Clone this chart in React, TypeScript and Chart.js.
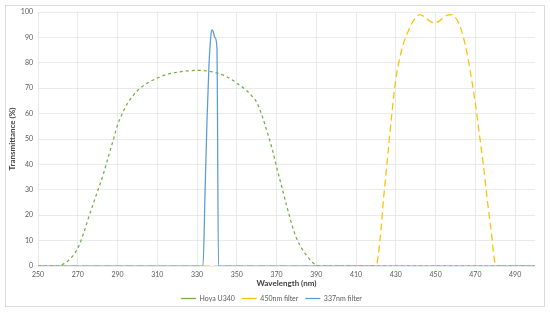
import React, { useEffect, useRef } from 'react';
import { Chart, registerables } from 'chart.js';

Chart.register(...registerables);

const xTickValues = [250, 270, 290, 310, 330, 350, 370, 390, 410, 430, 450, 470, 490];
const xMin = 250;
const xMax = 500;
const yMin = 0;
const yMax = 100;
const yStep = 10;

const seriesNames = ['Hoya U340', '450nm filter', '337nm filter'];

const hoyaWavelength = [250, 255, 260, 262, 265, 268, 270, 273, 275, 278, 280, 283, 285, 288, 290, 293, 295, 300, 305, 310, 315, 320, 325, 330, 335, 340, 345, 350, 355, 358, 360, 363, 365, 368, 370, 373, 375, 378, 380, 383, 385, 388, 390, 392, 500];
const hoyaTransmittance = [0, 0, 0, 0.5, 2, 4.5, 7, 13, 18, 25, 29.5, 36.5, 42, 50, 55.5, 61, 64, 69, 72, 74, 75.5, 76.3, 76.8, 77, 76.8, 76, 74.5, 72, 69, 66.5, 64.5, 58.5, 53.5, 45.5, 39, 30, 24, 15.5, 11, 6.5, 4.3, 1.5, 0.4, 0, 0];

const f450Wavelength = [250, 420, 422, 424, 426, 428, 430, 432, 434, 436, 438, 440, 442, 444, 446, 448, 450, 452, 454, 456, 458, 460, 462, 464, 466, 468, 470, 472, 474, 476, 478, 480, 482, 500];
const f450Transmittance = [0, 0, 10, 28, 44, 60, 73.5, 82, 88, 92, 95.5, 97.8, 99, 98.3, 97, 96, 95.8, 96.5, 97.8, 98.8, 99, 97.8, 95, 90, 83, 74, 64, 52, 40, 26, 13.5, 1, 0, 0];

const f337Wavelength = [250, 333, 334, 335, 336, 337, 337.5, 338, 339, 340, 340.8, 500];
const f337Transmittance = [0, 0, 28, 57, 79, 91, 93, 92.5, 90, 86, 0, 0];

const toPoints = (xs: number[], ys: number[]) => xs.map((x, i) => ({ x, y: ys[i] }));

const borderPlugin = {
  id: 'outerBorder',
  beforeDraw(chart: any) {
    const ctx = chart.ctx;
    ctx.save();
    ctx.fillStyle = '#ffffff';
    ctx.fillRect(0, 0, chart.width, chart.height);
    ctx.strokeStyle = '#D9D9D9';
    ctx.lineWidth = 1;
    ctx.strokeRect(5.5, 5.5, chart.width - 11, chart.height - 12);
    ctx.restore();
  },
};

export default function App() {
  const ref = useRef<HTMLCanvasElement>(null);

  useEffect(() => {
    const tickFont = { family: 'Lato', size: 7 };
    const chart = new Chart(ref.current as HTMLCanvasElement, {
      type: 'line',
      data: {
        datasets: [
          {
            label: seriesNames[0],
            data: toPoints(hoyaWavelength, hoyaTransmittance),
            borderColor: '#70AD47',
            backgroundColor: '#70AD47',
            borderWidth: 1.25,
            borderDash: [3, 3],
            pointRadius: 0,
            cubicInterpolationMode: 'monotone',
            order: 3,
          },
          {
            label: seriesNames[1],
            data: toPoints(f450Wavelength, f450Transmittance),
            borderColor: '#FFC000',
            backgroundColor: '#FFC000',
            borderWidth: 1.25,
            borderDash: [7, 4],
            pointRadius: 0,
            cubicInterpolationMode: 'monotone',
            order: 2,
          },
          {
            label: seriesNames[2],
            data: toPoints(f337Wavelength, f337Transmittance),
            borderColor: '#5B9BD5',
            backgroundColor: '#5B9BD5',
            borderWidth: 1.25,
            pointRadius: 0,
            cubicInterpolationMode: 'monotone',
            order: 1,
          },
        ],
      },
      options: {
        responsive: false,
        animation: false,
        layout: { padding: { left: 8, right: 15, top: 12, bottom: 1 } },
        plugins: {
          legend: {
            position: 'bottom',
            labels: {
              usePointStyle: true,
              pointStyle: 'line',
              pointStyleWidth: 15,
              boxWidth: 15,
              boxHeight: 7,
              padding: 7,
              color: '#595959',
              font: { family: 'Lato', size: 7 },
              sort: (a: any, b: any) => a.datasetIndex - b.datasetIndex,
            },
          },
          tooltip: { enabled: false },
        },
        scales: {
          x: {
            type: 'linear',
            min: xMin,
            max: xMax,
            afterBuildTicks: (scale: any) => {
              scale.ticks = xTickValues.map((v) => ({ value: v }));
            },
            afterFit: (scale: any) => {
              scale.height = 22;
            },
            grid: { color: '#E3E3E3', lineWidth: 0.75, drawTicks: false },
            border: { display: false },
            ticks: { color: '#595959', font: tickFont, padding: 5, maxRotation: 0, autoSkip: false },
            title: {
              display: true,
              text: 'Wavelength (nm)',
              color: '#404040',
              font: { family: 'Lato', size: 8, weight: 'bold' },
              padding: { top: 0, bottom: 0 },
            },
          },
          y: {
            min: yMin,
            max: yMax,
            grid: { color: '#E3E3E3', lineWidth: 0.75, drawTicks: false },
            border: { display: false },
            ticks: { stepSize: yStep, color: '#595959', font: tickFont, padding: 5 },
            title: {
              display: true,
              text: 'Transmittance (%)',
              color: '#404040',
              font: { family: 'Lato', size: 8, weight: 'bold' },
              padding: { top: 0, bottom: 4 },
            },
            afterFit: (scale: any) => {
              scale.width = 30;
            },
          },
        },
      },
      plugins: [borderPlugin],
    } as any);
    return () => chart.destroy();
  }, []);

  return (
    <div style={{ position: 'absolute', left: 0, top: 0, width: 550, height: 313 }}>
      <canvas ref={ref} width={550} height={313} />
    </div>
  );
}
